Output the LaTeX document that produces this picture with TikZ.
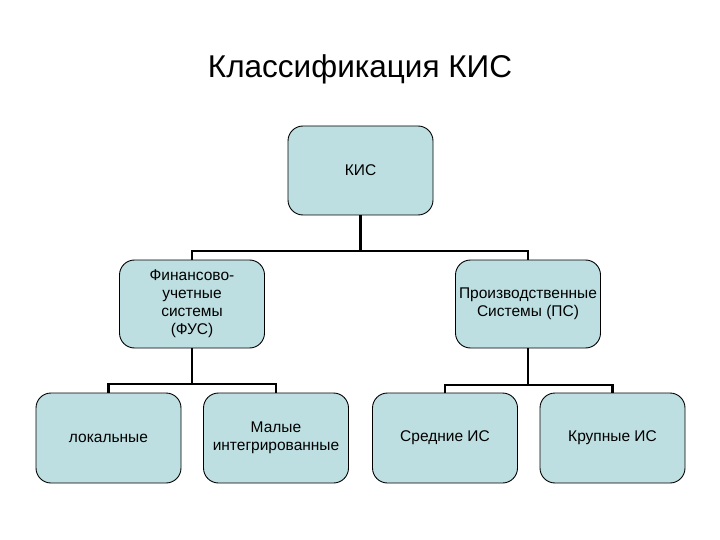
\documentclass[tikz,border=0pt]{standalone}
\usepackage{fontspec}
\setmainfont{Liberation Sans}
\begin{document}
\begin{tikzpicture}[x=1pt,y=-1pt,
  box/.style={draw=black, line width=0.9pt, fill=boxfill, rounded corners=15pt,
    minimum width=145pt, minimum height=89pt, align=center, inner sep=2pt,
    font=\fontsize{15.5}{18}\selectfont},
  conn/.style={draw=black, line width=2.8pt}]
\definecolor{boxfill}{RGB}{190,223,225}
\useasboundingbox (0,0) rectangle (720,540);
\node[font=\fontsize{31.5}{36}\selectfont] (title) at (360,69) {Классификация КИС};
\node[box] (kis) at (360.5,170.5) {КИС};
\node[box, minimum height=88pt] (fus) at (192,304) {Финансово-\\учетные\\системы\\(ФУС)};
\node[box, minimum height=88pt] (ps) at (528,304) {Производственные\\Системы (ПС)};
\node[box, minimum height=90pt] (lok) at (108.5,438) {локальные};
\node[box, minimum height=90pt] (mal) at (276,438) {Малые\\интегрированные};
\node[box, minimum height=90pt] (sred) at (445,438) {Средние ИС};
\node[box, minimum height=90pt] (krup) at (612.5,438) {Крупные ИС};
\coordinate (h1) at (0,251);
\coordinate (h2) at (0,384);
\coordinate (h3) at (0,385);
\draw[conn] (kis.south) -- (kis.south |- h1);
\draw[conn] (fus.north) |- (ps.north |- h1) -- (ps.north);
\draw[conn] (fus.south) -- (fus.south |- h2);
\draw[conn] (lok.north) |- (mal.north |- h2) -- (mal.north);
\draw[conn] (ps.south) -- (ps.south |- h3);
\draw[conn] (sred.north) |- (krup.north |- h3) -- (krup.north);
\end{tikzpicture}
\end{document}
